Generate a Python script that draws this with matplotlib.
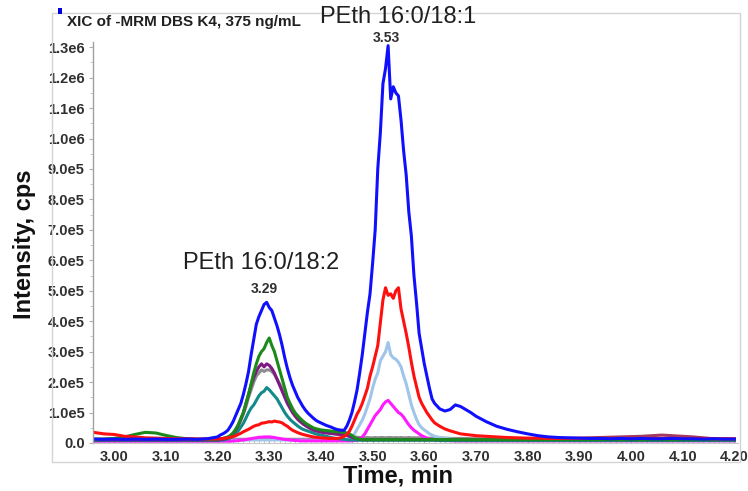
import numpy as np
import matplotlib
matplotlib.use("Agg")
import matplotlib.pyplot as plt
from matplotlib.patches import Rectangle
from matplotlib.ticker import MultipleLocator, FixedLocator

plt.rcParams['font.family'] = ['Liberation Sans', 'DejaVu Sans']

# ---- sample times (min) ----
t_left = np.round(np.arange(2.96, 3.2001, 0.02), 3)      # 13
t_mid = np.round(np.arange(3.205, 3.6201, 0.005), 3)     # 84
t_r1 = np.round(np.arange(3.63, 3.7001, 0.01), 3)        # 8
t_far = np.round(np.arange(3.72, 4.2001, 0.02), 3)       # 25
time = np.concatenate([t_left, t_mid, t_r1, t_far])

# ---- intensities (x1e5 cps) ----
blue = [0.13, 0.12, 0.13, 0.12, 0.13, 0.12, 0.13, 0.12, 0.12, 0.13, 0.12, 0.14, 0.20,
        0.26, 0.30, 0.35, 0.42, 0.55, 0.70, 0.90, 1.10, 1.30, 1.60, 1.95, 2.35, 2.90, 3.40, 3.90, 4.15,
        4.35, 4.55, 4.62, 4.45, 4.35, 4.10, 3.85, 3.55, 3.20, 2.80, 2.45, 2.15, 1.90, 1.70, 1.50, 1.35,
        1.20, 1.08, 0.98, 0.90, 0.82, 0.75, 0.70, 0.66, 0.62, 0.58, 0.55, 0.52, 0.48, 0.45, 0.43, 0.42,
        0.42, 0.55, 0.75, 1.00, 1.35, 1.75, 2.30, 2.90, 3.60, 4.30, 4.90, 5.90, 7.00, 9.00, 10.2, 11.8,
        12.3, 13.05, 11.3, 11.7, 11.5, 11.4, 10.6, 9.6, 8.8, 7.6, 6.8, 5.5, 4.6, 3.6, 3.1, 2.6, 2.2,
        1.8, 1.45, 1.30,
        1.12, 1.05, 1.10, 1.25, 1.20, 1.10, 1.00, 0.88,
        0.70, 0.55, 0.45, 0.37, 0.30, 0.24, 0.20, 0.18, 0.17, 0.16, 0.15, 0.15, 0.14, 0.15, 0.14,
        0.15, 0.14, 0.14, 0.15, 0.14, 0.14, 0.13, 0.14, 0.13, 0.13]

red = [0.35, 0.30, 0.28, 0.22, 0.20, 0.17, 0.16, 0.15, 0.14, 0.14, 0.13, 0.13, 0.14,
       0.14, 0.15, 0.16, 0.17, 0.19, 0.21, 0.24, 0.28, 0.32, 0.37, 0.41, 0.45, 0.50, 0.55, 0.58, 0.60,
       0.65, 0.66, 0.68, 0.70, 0.69, 0.72, 0.70, 0.69, 0.66, 0.60, 0.55, 0.48, 0.42, 0.38, 0.34, 0.31,
       0.28, 0.26, 0.24, 0.22, 0.20, 0.19, 0.18, 0.17, 0.16, 0.16, 0.15, 0.15, 0.15, 0.15, 0.16, 0.18,
       0.22, 0.28, 0.38, 0.55, 0.75, 0.95, 1.10, 1.30, 1.55, 1.80, 2.20, 2.50, 2.85, 3.20, 3.95, 4.70,
       5.10, 4.85, 4.90, 4.75, 5.00, 5.10, 4.40, 4.00, 3.60, 3.15, 2.65, 2.20, 1.85, 1.50, 1.30, 1.15,
       1.00, 0.88, 0.76, 0.66,
       0.55, 0.46, 0.40, 0.35, 0.30, 0.28, 0.26, 0.24,
       0.22, 0.20, 0.18, 0.17, 0.16, 0.16, 0.15, 0.15, 0.15, 0.15, 0.15, 0.15, 0.15, 0.15, 0.15,
       0.15, 0.15, 0.15, 0.15, 0.15, 0.15, 0.15, 0.14, 0.14, 0.14]

lightblue = [0.10] * 13 + \
    [0.10, 0.10, 0.10, 0.10, 0.10, 0.10, 0.10, 0.10, 0.10, 0.10, 0.10, 0.10, 0.10, 0.10, 0.10, 0.10,
     0.10, 0.10, 0.10, 0.10, 0.10, 0.10, 0.10, 0.10, 0.10, 0.10, 0.10, 0.10, 0.10, 0.10, 0.10, 0.10,
     0.10, 0.10, 0.10, 0.10, 0.10, 0.10, 0.10, 0.10, 0.10, 0.10, 0.10, 0.10, 0.10, 0.10, 0.10, 0.10,
     0.11, 0.12, 0.15, 0.20, 0.30, 0.45, 0.60, 0.75, 0.95, 1.20, 1.45, 1.80, 2.10, 2.30, 2.70, 2.85,
     3.00, 3.30, 2.90, 2.80, 2.75, 2.65, 2.50, 2.20, 1.95, 1.60, 1.25, 1.00, 0.78, 0.60, 0.50, 0.43,
     0.37, 0.30, 0.26, 0.22] + \
    [0.18, 0.15, 0.13, 0.12, 0.11, 0.11, 0.10, 0.10] + [0.10] * 25

magenta = [0.06] * 13 + \
    [0.06, 0.06, 0.06, 0.06, 0.06, 0.07, 0.07, 0.08, 0.09, 0.10, 0.11, 0.13, 0.14, 0.16, 0.17, 0.19,
     0.19, 0.20, 0.20, 0.20, 0.19, 0.18, 0.16, 0.15, 0.13, 0.12, 0.11, 0.10, 0.09, 0.08, 0.08, 0.07,
     0.07, 0.07, 0.07, 0.07, 0.07, 0.07, 0.07, 0.07, 0.07, 0.07, 0.07, 0.07, 0.07, 0.07, 0.07, 0.07,
     0.07, 0.07, 0.07, 0.07, 0.08, 0.10, 0.13, 0.20, 0.30, 0.45, 0.60, 0.75, 0.90, 1.00, 1.10, 1.25,
     1.35, 1.40, 1.30, 1.20, 1.10, 1.00, 0.95, 0.85, 0.72, 0.60, 0.50, 0.42, 0.36, 0.30, 0.24, 0.20,
     0.16, 0.13, 0.11, 0.10] + \
    [0.09, 0.08, 0.08, 0.07, 0.07, 0.07, 0.07, 0.07] + [0.07] * 25

green = [0.12, 0.13, 0.15, 0.20, 0.28, 0.35, 0.33, 0.25, 0.18, 0.14, 0.12, 0.12, 0.13,
         0.14, 0.15, 0.17, 0.20, 0.25, 0.33, 0.45, 0.60, 0.80, 1.00, 1.30, 1.60, 1.95, 2.30, 2.60, 2.85,
         3.00, 3.10, 3.30, 3.45, 3.20, 3.00, 2.70, 2.40, 2.10, 1.80, 1.50, 1.30, 1.10, 0.98, 0.88, 0.80,
         0.72, 0.65, 0.60, 0.55, 0.50, 0.47, 0.45, 0.43, 0.42, 0.41, 0.40, 0.39, 0.38, 0.37, 0.37, 0.36,
         0.35, 0.33, 0.30, 0.25, 0.18, 0.14, 0.12, 0.12, 0.11, 0.11, 0.11, 0.11, 0.11, 0.11, 0.11, 0.11,
         0.11, 0.11, 0.11, 0.11, 0.11, 0.11, 0.11, 0.11, 0.11, 0.11, 0.11, 0.11, 0.11, 0.11, 0.11, 0.11,
         0.11, 0.11, 0.11, 0.11] + [0.11] * 8 + [0.11] * 25

purple = [0.10] * 13 + \
    [0.11, 0.12, 0.14, 0.17, 0.22, 0.30, 0.42, 0.58, 0.78, 1.00, 1.30, 1.60, 1.90, 2.15, 2.35, 2.50,
     2.60, 2.50, 2.60, 2.55, 2.45, 2.30, 2.10, 1.90, 1.70, 1.50, 1.30, 1.15, 1.00, 0.88, 0.78, 0.70,
     0.63, 0.57, 0.52, 0.47, 0.43, 0.40, 0.38, 0.36, 0.34, 0.33, 0.32, 0.31, 0.30, 0.29, 0.28, 0.27,
     0.26, 0.25, 0.22, 0.19, 0.16, 0.14, 0.12, 0.11, 0.11, 0.11, 0.11, 0.11, 0.11, 0.11, 0.11, 0.11,
     0.11, 0.11, 0.11, 0.11, 0.11, 0.11, 0.11, 0.11, 0.11, 0.11, 0.11, 0.11, 0.11, 0.11, 0.11, 0.11,
     0.11, 0.11, 0.11, 0.11] + [0.11] * 8 + [0.11] * 25

gray = [0.12] * 13 + \
    [0.13, 0.14, 0.16, 0.19, 0.24, 0.31, 0.42, 0.56, 0.74, 0.95, 1.20, 1.50, 1.75, 2.00, 2.20, 2.30,
     2.40, 2.35, 2.40, 2.40, 2.35, 2.25, 2.10, 1.95, 1.80, 1.60, 1.45, 1.30, 1.15, 1.00, 0.90, 0.80,
     0.72, 0.65, 0.58, 0.52, 0.48, 0.44, 0.41, 0.39, 0.37, 0.35, 0.33, 0.32, 0.31, 0.30, 0.29, 0.28,
     0.27, 0.26, 0.24, 0.22, 0.20, 0.19, 0.18, 0.17, 0.17, 0.18, 0.17, 0.17, 0.18, 0.17, 0.18, 0.18,
     0.17, 0.18, 0.18, 0.17, 0.18, 0.17, 0.18, 0.17, 0.17, 0.18, 0.17, 0.17, 0.17, 0.17, 0.16, 0.17,
     0.16, 0.16, 0.16, 0.16] + [0.16, 0.16, 0.15, 0.15, 0.15, 0.15, 0.14, 0.14] + [0.13] * 25

teal = [0.08] * 13 + \
    [0.09, 0.10, 0.11, 0.13, 0.17, 0.22, 0.30, 0.40, 0.52, 0.65, 0.82, 1.00, 1.15, 1.25, 1.40, 1.55,
     1.65, 1.70, 1.82, 1.75, 1.65, 1.55, 1.45, 1.30, 1.15, 1.00, 0.88, 0.78, 0.70, 0.63, 0.56, 0.50,
     0.45, 0.42, 0.39, 0.36, 0.33, 0.30, 0.28, 0.26, 0.24, 0.22, 0.20, 0.18, 0.16, 0.15, 0.14, 0.13,
     0.12, 0.11, 0.10, 0.10, 0.10, 0.09, 0.09, 0.09, 0.09, 0.09, 0.09, 0.09, 0.09, 0.09, 0.09, 0.09,
     0.09, 0.09, 0.09, 0.09, 0.09, 0.09, 0.09, 0.09, 0.09, 0.09, 0.09, 0.09, 0.09, 0.09, 0.09, 0.09,
     0.09, 0.09, 0.09, 0.09] + [0.08] * 8 + [0.08] * 25

maroon = [0.12] * 13 + [0.12] * 84 + [0.12] * 8 + \
    [0.12, 0.12, 0.12, 0.12, 0.12, 0.13, 0.13, 0.14, 0.15, 0.16, 0.17, 0.18, 0.19, 0.20, 0.21,
     0.22, 0.24, 0.26, 0.24, 0.22, 0.20, 0.17, 0.14, 0.13, 0.12]

series = [
    (maroon, '#a23a62'),
    (gray, '#8c8c8c'),
    (lightblue, '#9fc5ea'),
    (magenta, '#ff1aff'),
    (teal, '#138a8a'),
    (purple, '#7d1a84'),
    (green, '#1a8a1a'),
    (red, '#ff1010'),
    (blue, '#1010ff'),
]

x_ticks = [3.00, 3.10, 3.20, 3.30, 3.40, 3.50, 3.60, 3.70, 3.80, 3.90, 4.00, 4.10, 4.20]
x_ticklabels = ['3.00', '3.10', '3.20', '3.30', '3.40', '3.50', '3.60', '3.70', '3.80',
                '3.90', '4.00', '4.10', '4.20']
y_ticks = [0, 1e5, 2e5, 3e5, 4e5, 5e5, 6e5, 7e5, 8e5, 9e5, 1.0e6, 1.1e6, 1.2e6, 1.3e6]
y_ticklabels = ['0.0', '1.0e5', '2.0e5', '3.0e5', '4.0e5', '5.0e5', '6.0e5', '7.0e5', '8.0e5',
                '9.0e5', '1.0e6', '1.1e6', '1.2e6', '1.3e6']

W, H = 748, 491
fig = plt.figure(figsize=(W / 100, H / 100), dpi=100)

def fx(px):
    return px / W

def fy(py):
    return 1 - py / H

# outer frame
fig.patches.append(Rectangle((fx(52), fy(462)), fx(740) - fx(52), fy(13) - fy(462),
                             transform=fig.transFigure, fill=False, ec='#d4d4d4', lw=1.0))
fig.patches.append(Rectangle((fx(58), fy(14)), fx(4), fy(8) - fy(14),
                             transform=fig.transFigure, fc='#0000dd', ec='none'))

ax = fig.add_axes([fx(93), fy(443), fx(738) - fx(93), fy(42) - fy(443)])
for vals, col in series:
    ax.plot(time, np.array(vals) * 1e5, color=col, lw=2.2, solid_joinstyle='round')

ax.set_xlim(2.959, 4.207)
ax.set_ylim(0, 1.317e6)
ax.xaxis.set_major_locator(FixedLocator(x_ticks))
ax.set_xticklabels(x_ticklabels)
ax.xaxis.set_minor_locator(MultipleLocator(0.01))
ax.yaxis.set_major_locator(FixedLocator(y_ticks))
ax.set_yticklabels(y_ticklabels)
ax.yaxis.set_minor_locator(MultipleLocator(0.5e5))

for s in ['top', 'right']:
    ax.spines[s].set_visible(False)
ax.spines['left'].set_color('#a0a0a0')
ax.spines['bottom'].set_color('#c8c8c8')
ax.spines['left'].set_linewidth(1.0)
ax.spines['bottom'].set_linewidth(0.8)

ax.tick_params(axis='both', which='major', labelsize=10.5, colors='#b0b0b0', labelcolor='#303030',
               length=3, width=0.8)
ax.tick_params(axis='both', which='minor', colors='#c0c0c0', length=2, width=0.6)
ax.tick_params(axis='x', which='both', direction='in', pad=5)
ax.tick_params(axis='y', which='major', pad=3)
for lab in ax.get_xticklabels() + ax.get_yticklabels():
    lab.set_fontweight('bold')

fig.text(fx(67), fy(22), 'XIC of -MRM DBS K4, 375 ng/mL', fontsize=11, fontweight='bold',
         color='#202020', ha='left', va='center')
fig.text(fx(398), fy(17), 'PEth 16:0/18:1', fontsize=17, color='#202020', ha='center', va='center')
fig.text(fx(386), fy(38), '3.53', fontsize=10, fontweight='bold', color='#303030',
         ha='center', va='center')
fig.text(fx(261), fy(263), 'PEth 16:0/18:2', fontsize=17, color='#202020', ha='center', va='center')
fig.text(fx(264), fy(289), '3.29', fontsize=10, fontweight='bold', color='#303030',
         ha='center', va='center')
fig.text(fx(25), fy(244), 'Intensity, cps', fontsize=17, fontweight='bold', color='#111111',
         rotation=90, ha='center', va='center')
fig.text(fx(398), fy(476), 'Time, min', fontsize=17, fontweight='bold', color='#111111',
         ha='center', va='center')

fig.savefig('out.png', dpi=100)
